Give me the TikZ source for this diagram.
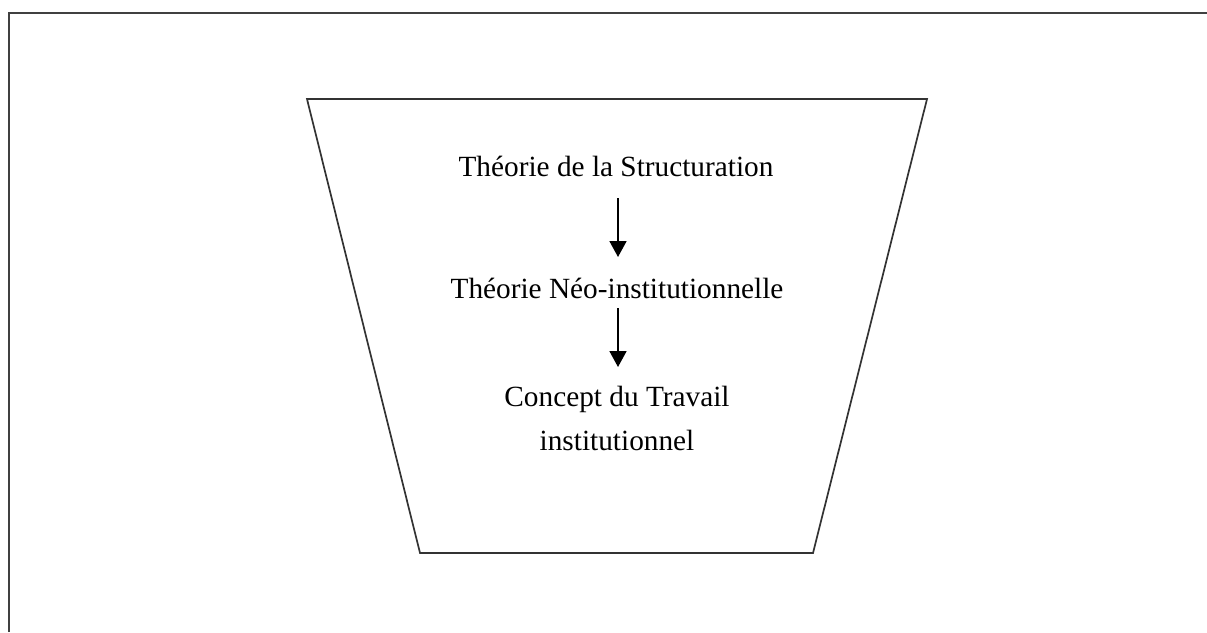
\documentclass[tikz,border=0pt]{standalone}
\usepackage{fontspec}
\setmainfont{Liberation Serif}
\usetikzlibrary{arrows.meta}
\begin{document}
\begin{tikzpicture}[x=1pt,y=-1pt,
  lbl/.style={font=\fontsize{29.3}{44}\selectfont, inner sep=0pt, align=center},
  flow/.style={line width=1.8pt, -{Triangle[length=16pt,width=17pt]}},
  frame/.style={line width=2pt, draw=black!75}]
\useasboundingbox (0,0) rectangle (1207,632);
\draw[frame] (9,632) -- (9,13) -- (1207,13);
\draw[line width=1.7pt, draw=black!80] (307,99) -- (927,99) -- (813,553) -- (420,553) -- cycle;
\node[lbl] (a) at (616,166) {Théorie de la Structuration};
\node[lbl] (b) at (617,288) {Théorie Néo-institutionnelle};
\node[lbl] (c) at (617,418) {Concept du Travail\\institutionnel};
\coordinate (a1) at (618,198);
\coordinate (a2) at (618,257);
\coordinate (b1) at (618,308);
\coordinate (b2) at (618,367);
\draw[flow] (a1) -- (a2);
\draw[flow] (b1) -- (b2);
\end{tikzpicture}
\end{document}
